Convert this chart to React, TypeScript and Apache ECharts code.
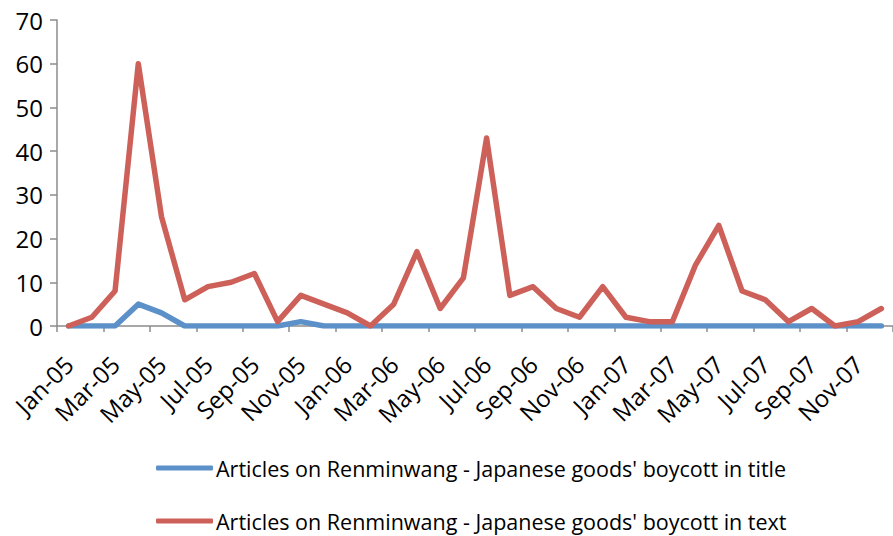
import React, { useEffect, useRef } from "react";
import * as echarts from "echarts";

const months = [
  "Jan-05", "Feb-05", "Mar-05", "Apr-05", "May-05", "Jun-05", "Jul-05", "Aug-05", "Sep-05", "Oct-05", "Nov-05", "Dec-05",
  "Jan-06", "Feb-06", "Mar-06", "Apr-06", "May-06", "Jun-06", "Jul-06", "Aug-06", "Sep-06", "Oct-06", "Nov-06", "Dec-06",
  "Jan-07", "Feb-07", "Mar-07", "Apr-07", "May-07", "Jun-07", "Jul-07", "Aug-07", "Sep-07", "Oct-07", "Nov-07", "Dec-07",
];

const titleSeriesName = "Articles on Renminwang - Japanese goods' boycott in title";
const textSeriesName = "Articles on Renminwang - Japanese goods' boycott in text";

const inTitle = [
  0, 0, 0, 5, 3, 0, 0, 0, 0, 0, 1, 0,
  0, 0, 0, 0, 0, 0, 0, 0, 0, 0, 0, 0,
  0, 0, 0, 0, 0, 0, 0, 0, 0, 0, 0, 0,
];

const inText = [
  0, 2, 8, 60, 25, 6, 9, 10, 12, 1, 7, 5,
  3, 0, 5, 17, 4, 11, 43, 7, 9, 4, 2, 9,
  2, 1, 1, 14, 23, 8, 6, 1, 4, 0, 1, 4,
];

const BLUE = "#5B90C9";
const RED = "#CD615A";
const AXIS = "#8C8C8C";
const FONT = "Open Sans";

const legendBase = {
  orient: "horizontal",
  left: 151,
  itemWidth: 57,
  itemHeight: 5,
  icon: "roundRect",
  textStyle: { fontFamily: FONT, fontSize: 21.5, color: "#000", padding: [0, 0, 0, -2] },
};

export default function App() {
  const ref = useRef<HTMLDivElement>(null);

  useEffect(() => {
    if (!ref.current) return;
    const chart = echarts.init(ref.current, undefined, { renderer: "svg" });
    chart.setOption({
      animation: false,
      backgroundColor: "#ffffff",
      textStyle: { fontFamily: FONT },
      grid: { left: 57, top: 20, width: 845, height: 306 },
      legend: [
        { ...legendBase, top: 452, data: [titleSeriesName] },
        { ...legendBase, top: 505, data: [textSeriesName] },
      ],
      xAxis: {
        type: "category",
        data: months,
        boundaryGap: true,
        axisLine: { lineStyle: { color: AXIS, width: 1.5 } },
        axisTick: { show: true, interval: 1, length: 6, lineStyle: { color: AXIS, width: 1.5 } },
        axisLabel: {
          interval: 1,
          rotate: 45,
          margin: 34,
          fontFamily: FONT,
          fontSize: 24,
          color: "#000",
        },
      },
      yAxis: {
        type: "value",
        min: 0,
        max: 70,
        interval: 10,
        splitLine: { show: false },
        axisLine: { show: true, lineStyle: { color: AXIS, width: 1.5 } },
        axisTick: { show: true, length: 7, lineStyle: { color: AXIS, width: 1.5 } },
        axisLabel: { fontFamily: FONT, fontSize: 24, color: "#000", margin: 14 },
      },
      series: [
        {
          name: titleSeriesName,
          type: "line",
          data: inTitle,
          symbol: "none",
          color: BLUE,
          lineStyle: { color: BLUE, width: 5.5, cap: "round", join: "round" },
          z: 2,
        },
        {
          name: textSeriesName,
          type: "line",
          data: inText,
          symbol: "none",
          color: RED,
          lineStyle: { color: RED, width: 5.5, cap: "round", join: "round" },
          z: 3,
        },
      ],
    });
    return () => chart.dispose();
  }, []);

  return (
    <div
      ref={ref}
      style={{ position: "fixed", left: 0, top: 0, width: 893, height: 536 }}
    />
  );
}
